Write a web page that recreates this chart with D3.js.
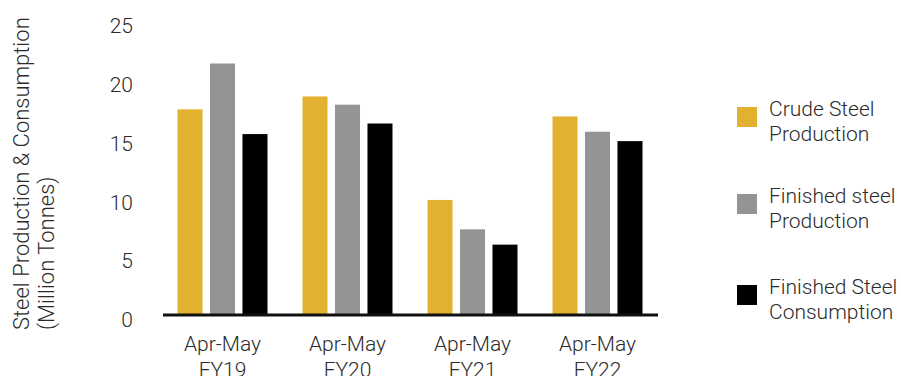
<!DOCTYPE html>
<html>
<head>
<meta charset="utf-8">
<script src="https://cdn.jsdelivr.net/npm/d3@7"></script>
<style>
  html, body { margin: 0; padding: 0; background: #fff; }
  svg { display: block; font-family: Roboto, "Noto Sans", sans-serif; font-weight: 300; }
</style>
</head>
<body>
<svg id="chart" width="901" height="376"></svg>
<script>
// Steel production and consumption, April–May of each fiscal year (million tonnes)
const periods = ["FY19", "FY20", "FY21", "FY22"];
const periodPrefix = "Apr-May";
const seriesNames = ["Crude Steel Production", "Finished steel Production", "Finished Steel Consumption"];
const legendLines = [["Crude Steel", "Production"], ["Finished steel", "Production"], ["Finished Steel", "Consumption"]];
const crudeProduction = [17.4, 18.5, 9.7, 16.8];
const finishedProduction = [21.3, 17.8, 7.2, 15.5];
const finishedConsumption = [15.3, 16.2, 5.9, 14.7];
const yTicks = [0, 5, 10, 15, 20, 25];
const colors = ["#E1B12F", "#949494", "#000000"];

const seriesValues = [crudeProduction, finishedProduction, finishedConsumption];
const svg = d3.select("#chart");
const textColor = "#2b2b2b";
const fontSize = "21px";

const x0 = d3.scaleBand().domain(periods).range([160, 660]).paddingInner(0.28).paddingOuter(0.14);
const x1 = d3.scaleBand().domain(d3.range(seriesNames.length)).range([0, x0.bandwidth()]).paddingInner(0.23);
const y = d3.scaleLinear().domain([0, 25]).range([314, 20]);

// y tick labels (no axis line or tick marks)
const yAxis = d3.axisLeft(y).tickValues(yTicks).tickSize(0).tickPadding(0);
const gy = svg.append("g").attr("transform", "translate(133,6)").call(yAxis);
gy.select(".domain").remove();
gy.selectAll("text")
  .attr("fill", textColor)
  .style("font-size", fontSize)
  .style("font-family", "Roboto, sans-serif")
  .style("font-weight", 300);

// bars
const groups = svg.append("g").selectAll("g")
  .data(periods)
  .join("g")
  .attr("transform", d => `translate(${x0(d)},0)`);

groups.selectAll("rect")
  .data((d, i) => seriesValues.map((vals, s) => ({ s, v: vals[i] })))
  .join("rect")
  .attr("x", d => x1(d.s))
  .attr("width", x1.bandwidth())
  .attr("y", d => y(d.v))
  .attr("height", d => y(0) - y(d.v))
  .attr("fill", d => colors[d.s]);

// baseline
svg.append("line")
  .attr("x1", 163).attr("x2", 658)
  .attr("y1", y(0) + 1).attr("y2", y(0) + 1)
  .attr("stroke", "#111").attr("stroke-width", 3);

// x category labels (two lines)
const xAxis = d3.axisBottom(x0).tickSize(0).tickFormat(() => "");
const gx = svg.append("g").attr("transform", `translate(0,${y(0)})`).call(xAxis);
gx.select(".domain").remove();
gx.selectAll(".tick").each(function (d) {
  const t = d3.select(this).append("text")
    .attr("text-anchor", "middle")
    .attr("fill", textColor)
    .style("font-size", fontSize)
    .style("font-family", "Roboto, sans-serif")
    .style("font-weight", 300);
  t.append("tspan").attr("x", 0).attr("y", 37).text(periodPrefix);
  t.append("tspan").attr("x", 0).attr("y", 63).text(d);
});

// y axis title
const title = svg.append("text")
  .attr("transform", "translate(29,330) rotate(-90)")
  .attr("text-anchor", "start")
  .attr("fill", textColor)
  .style("font-size", "22px");
title.append("tspan").attr("x", 0).attr("y", 0).text("Steel Production & Consumption");
title.append("tspan").attr("x", 0).attr("y", 25).text("(Million Tonnes)");

// legend
const legendY = [117, 204, 295];
const legend = svg.append("g").selectAll("g")
  .data(seriesNames)
  .join("g")
  .attr("transform", (d, i) => `translate(737,${legendY[i]})`);
legend.append("rect")
  .attr("x", 0).attr("y", -10)
  .attr("width", 20).attr("height", 20)
  .attr("fill", (d, i) => colors[i]);
legend.append("text")
  .attr("fill", textColor)
  .style("font-size", fontSize)
  .each(function (d, i) {
    const t = d3.select(this);
    t.append("tspan").attr("x", 32).attr("y", -1).text(legendLines[i][0]);
    t.append("tspan").attr("x", 32).attr("y", 24).text(legendLines[i][1]);
  });
</script>
</body>
</html>
